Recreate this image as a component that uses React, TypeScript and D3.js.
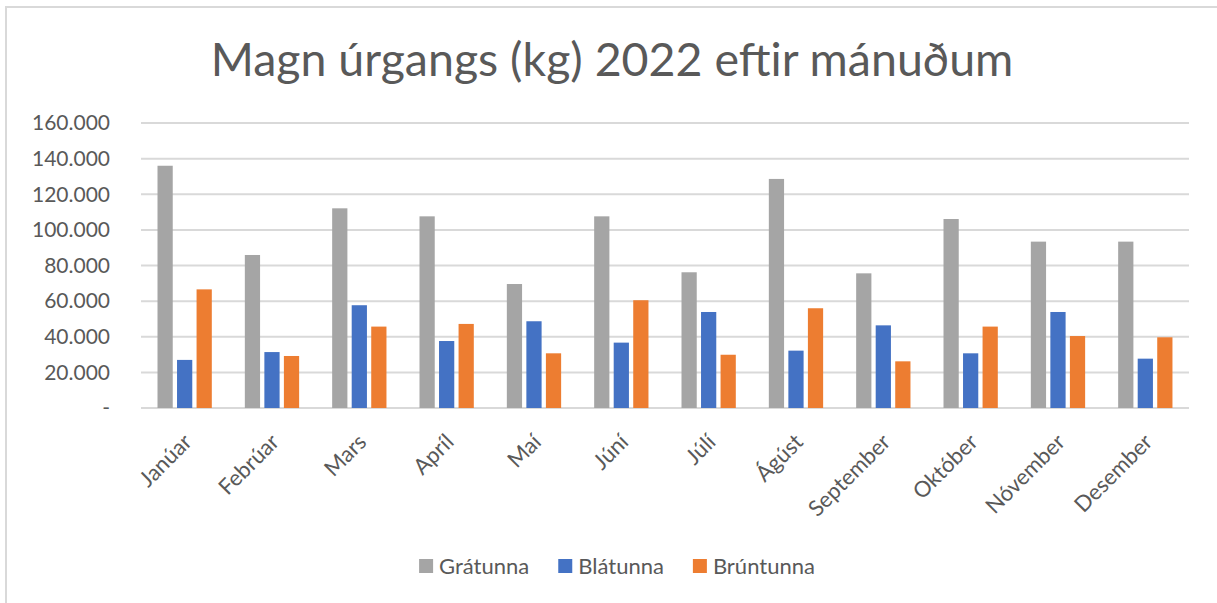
import React, { useRef, useEffect } from 'react';
import * as d3 from 'd3';

const months = ['Janúar', 'Febrúar', 'Mars', 'Apríl', 'Maí', 'Júní', 'Júlí', 'Ágúst', 'September', 'Október', 'Nóvember', 'Desember'];
const seriesNames = ['Grátunna', 'Blátunna', 'Brúntunna'];
const seriesColors = ['#A5A5A5', '#4472C4', '#ED7D31'];
const gratunna = [136000, 85900, 112100, 107600, 69600, 107600, 76200, 128600, 75600, 106100, 93400, 93400];
const blatunna = [27000, 31400, 57700, 37600, 48700, 36700, 53900, 32200, 46400, 30700, 53900, 27700];
const bruntunna = [66600, 29200, 45700, 47200, 30700, 60500, 29900, 56000, 26200, 45700, 40400, 39700];
const yTicks = [0, 20000, 40000, 60000, 80000, 100000, 120000, 140000, 160000];
const title = 'Magn úrgangs (kg) 2022 eftir mánuðum';

export default function App(): JSX.Element {
  const svgRef = useRef<SVGSVGElement>(null);
  useEffect(() => {
    const el = svgRef.current;
    if (el == null) {
      return;
    }
    const svg = d3.select(el);
    svg.selectAll('*').remove();
    const font = 'Lato, Carlito, Calibri, sans-serif';
    const textColor = '#595959';
    const gridColor = '#D9D9D9';

    // chart frame (only top and left edges visible)
    svg.append('line').attr('x1', 6).attr('x2', 1217).attr('y1', 7).attr('y2', 7)
      .attr('stroke', gridColor).attr('stroke-width', 2);
    svg.append('line').attr('x1', 6).attr('x2', 6).attr('y1', 6).attr('y2', 603)
      .attr('stroke', gridColor).attr('stroke-width', 2);

    svg.append('text')
      .attr('x', 612).attr('y', 76)
      .attr('text-anchor', 'middle')
      .attr('font-family', font).attr('font-size', 46.5)
      .attr('fill', textColor)
      .text(title);

    const x = d3.scaleBand().domain(months).range([141, 1189]);
    const xs = d3.scaleBand().domain(seriesNames).range([16.5, 70.8]).paddingInner(0.22);
    const y = d3.scaleLinear().domain([0, 160000]).range([408, 123]);

    // gridlines
    svg.append('g').selectAll('line').data(yTicks).join('line')
      .attr('x1', 141).attr('x2', 1189)
      .attr('y1', (d) => y(d)).attr('y2', (d) => y(d))
      .attr('stroke', gridColor).attr('stroke-width', 2);

    const fmt = (d: number) => (d === 0 ? '-' : d3.format(',')(d).replace(/,/g, '.'));
    svg.append('g').selectAll('text').data(yTicks).join('text')
      .attr('x', 110).attr('y', (d) => y(d))
      .attr('dy', '0.35em')
      .attr('text-anchor', 'end')
      .attr('font-family', font).attr('font-size', 21)
      .attr('fill', textColor)
      .text(fmt);

    const allSeries = [gratunna, blatunna, bruntunna];
    allSeries.forEach((vals, si) => {
      svg.append('g').selectAll('rect').data(vals).join('rect')
        .attr('x', (d, i) => (x(months[i]) as number) + (xs(seriesNames[si]) as number))
        .attr('y', (d) => y(d))
        .attr('width', xs.bandwidth())
        .attr('height', (d) => y(0) - y(d))
        .attr('fill', seriesColors[si]);
    });

    // month labels
    svg.append('g').selectAll('text').data(months).join('text')
      .attr('transform', (d) => `translate(${(x(d) as number) + x.bandwidth() / 2 + 3}, 438) rotate(-45)`)
      .attr('dy', '0.35em')
      .attr('text-anchor', 'end')
      .attr('font-family', font).attr('font-size', 22)
      .attr('fill', textColor)
      .text((d) => d);

    // legend
    const legend = svg.append('g');
    let lx = 0;
    seriesNames.forEach((name, i) => {
      const g = legend.append('g').attr('transform', `translate(${lx}, 0)`);
      g.append('rect').attr('x', 0).attr('y', 559).attr('width', 14).attr('height', 14)
        .attr('fill', seriesColors[i]);
      const t = g.append('text').attr('x', 20).attr('y', 574)
        .attr('font-family', font).attr('font-size', 22)
        .attr('fill', textColor).text(name);
      const w = (t.node() as SVGTextElement).getComputedTextLength();
      lx += 20 + w + 29;
    });
    const total = lx - 29;
    legend.attr('transform', `translate(${617 - total / 2}, 0)`);
  }, []);
  return (
    <svg
      ref={svgRef}
      width={1217}
      height={603}
      style={{ position: 'absolute', left: 0, top: 0, background: '#fff' }}
    />
  );
}
